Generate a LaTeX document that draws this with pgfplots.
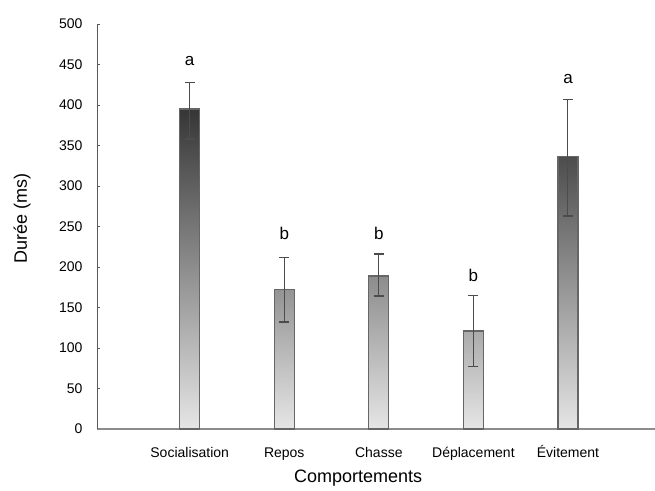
\documentclass[border=0pt]{standalone}
\usepackage{pgfplots}
\pgfplotsset{compat=1.18}
\usepackage{fontspec}
\setmainfont{Liberation Sans}
\begin{document}
\begin{tikzpicture}
\path[use as bounding box] (0,0) rectangle (655bp,491bp);
\begin{axis}[
  at={(97bp,62bp)}, anchor=south west,
  scale only axis, width=558bp, height=405bp,
  xmin=-0.98, xmax=4.92, ymin=0, ymax=500,
  clip=false,
  separate axis lines,
  axis x line=bottom, axis y line=left,
  x axis line style={-, draw=black!45, line width=1.5bp},
  y axis line style={-, draw=black!65, line width=0.9bp},
  ytick={0,50,...,500},
  tick align=inside,
  major tick length=3bp,
  y tick style={draw=black!65, line width=0.8bp},
  xtick={0,1,2,3,4},
  xticklabels={Socialisation,Repos,Chasse,Déplacement,Évitement},
  x tick style={draw=none},
  /pgf/number format/assume math mode=true,
  yticklabel style={font=\fontsize{14bp}{16bp}\selectfont, xshift=-11bp},
  xticklabel style={font=\fontsize{14bp}{16bp}\selectfont, text height=10bp, text depth=3bp, yshift=-15bp},
  ylabel={Durée (ms)},
  ylabel style={at={(axis description cs:-0.134,0.52)}, anchor=center, rotate=0, font=\fontsize{18bp}{20bp}\selectfont},
  xlabel={Comportements},
  xlabel style={at={(axis description cs:0.468,-0.121)}, anchor=center, font=\fontsize{18bp}{20bp}\selectfont},
]
\addplot[ybar, bar width=20bp, bar shift=0pt, draw=black!60, line width=1.3bp, top color=black!79, bottom color=black!10] coordinates {(0,395)};
\addplot[ybar, bar width=20bp, bar shift=0pt, draw=black!60, line width=1.3bp, top color=black!42, bottom color=black!10] coordinates {(1,172)};
\addplot[ybar, bar width=20bp, bar shift=0pt, draw=black!60, line width=1.3bp, top color=black!45, bottom color=black!10] coordinates {(2,189)};
\addplot[ybar, bar width=20bp, bar shift=0pt, draw=black!60, line width=1.3bp, top color=black!33, bottom color=black!10] coordinates {(3,121)};
\addplot[ybar, bar width=20bp, bar shift=0pt, draw=black!60, line width=1.3bp, top color=black!70, bottom color=black!10] coordinates {(4,336)};
\addplot[draw=none, mark=none,
  error bars/.cd, y dir=both, y explicit,
  error bar style={draw=black!70, solid, line width=1bp},
  error mark options={rotate=90, mark size=5bp, draw=black!70, line width=1.4bp}]
  coordinates {
  (0,395) += (0,33) -= (0,37)
  (1,172) += (0,40) -= (0,40)
  (2,189) += (0,27) -= (0,25)
  (3,121) += (0,44) -= (0,44)
  (4,336) += (0,71) -= (0,73)
  };
\node[font=\fontsize{17bp}{19bp}\selectfont] at (axis cs:0,454) {a};
\node[font=\fontsize{17bp}{19bp}\selectfont] at (axis cs:1,241) {b};
\node[font=\fontsize{17bp}{19bp}\selectfont] at (axis cs:2,241) {b};
\node[font=\fontsize{17bp}{19bp}\selectfont] at (axis cs:3,190) {b};
\node[font=\fontsize{17bp}{19bp}\selectfont] at (axis cs:4,432) {a};
\end{axis}
\end{tikzpicture}
\end{document}
